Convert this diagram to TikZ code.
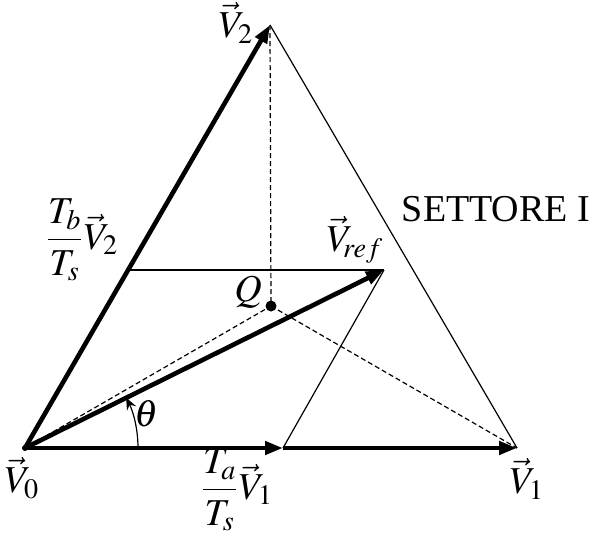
\documentclass[tikz,border=0pt]{standalone}
\usepackage{amsmath}
\usepackage{mathptmx}
\usepackage{fontspec}
\setmainfont{Liberation Serif}
\usetikzlibrary{arrows.meta,calc}
\begin{document}
\begin{tikzpicture}[x=0.5pt,y=-0.5pt,
  vec/.style={line width=2.3pt,-{Triangle[length=9pt,width=6.5pt]}},
  thinln/.style={line width=0.6pt},
  dashln/.style={line width=0.6pt,dash pattern=on 2.5pt off 1.5pt},
  lbl/.style={inner sep=0pt,font=\fontsize{19}{22}\selectfont}]
\useasboundingbox (0,0) rectangle (590,548);
\coordinate (V0) at (25,448);
\coordinate (V1) at (517,448);
\coordinate (V2) at (270,25);
\coordinate (Q) at (271,306);
\coordinate (R) at (384,270);
\coordinate (B) at (128,270);
\coordinate (A) at (283,448);
% thin and dashed lines
\draw[thinln] (V2) -- (V1);
\draw[dashln] (V2) -- (Q);
\draw[dashln] (V0) -- (Q);
\draw[dashln] (Q) -- (V1);
\draw[thinln] (B) -- (R);
\draw[thinln] (A) -- (R);
% vectors
\draw[vec] (V0) -- (V2);
\draw[vec] (V0) -- (A);
\draw[vec] (A) -- (V1);
\draw[vec] (V0) -- (R);
\fill (Q) circle (5.5);
\fill (V0) circle (3);
% angle
\draw[thinln,-{Stealth[length=6pt,width=5pt]}] ($(V0)+(113,0)$) arc[start angle=0,end angle=-26.5,radius=113];
% labels
\node[lbl] (lV2) at (236,23) {$\vec{V}_2$};
\node[lbl] (lB) at (82,240) {$\dfrac{T_b}{T_s}\vec{V}_2$};
\node[lbl] (lR) at (355,240) {$\vec{V}_{\!ref}$};
\node[lbl] (lQ) at (248,292) {$Q$};
\node[lbl] (lth) at (147,414) {$\theta$};
\node[lbl] (lV0) at (22,478) {$\vec{V}_0$};
\node[lbl] (lA) at (237,490) {$\dfrac{T_a}{T_s}\vec{V}_1$};
\node[lbl] (lV1) at (527,479) {$\vec{V}_1$};
\node[lbl] (sec) at (496,209) {SETTORE I};
\end{tikzpicture}
\end{document}
